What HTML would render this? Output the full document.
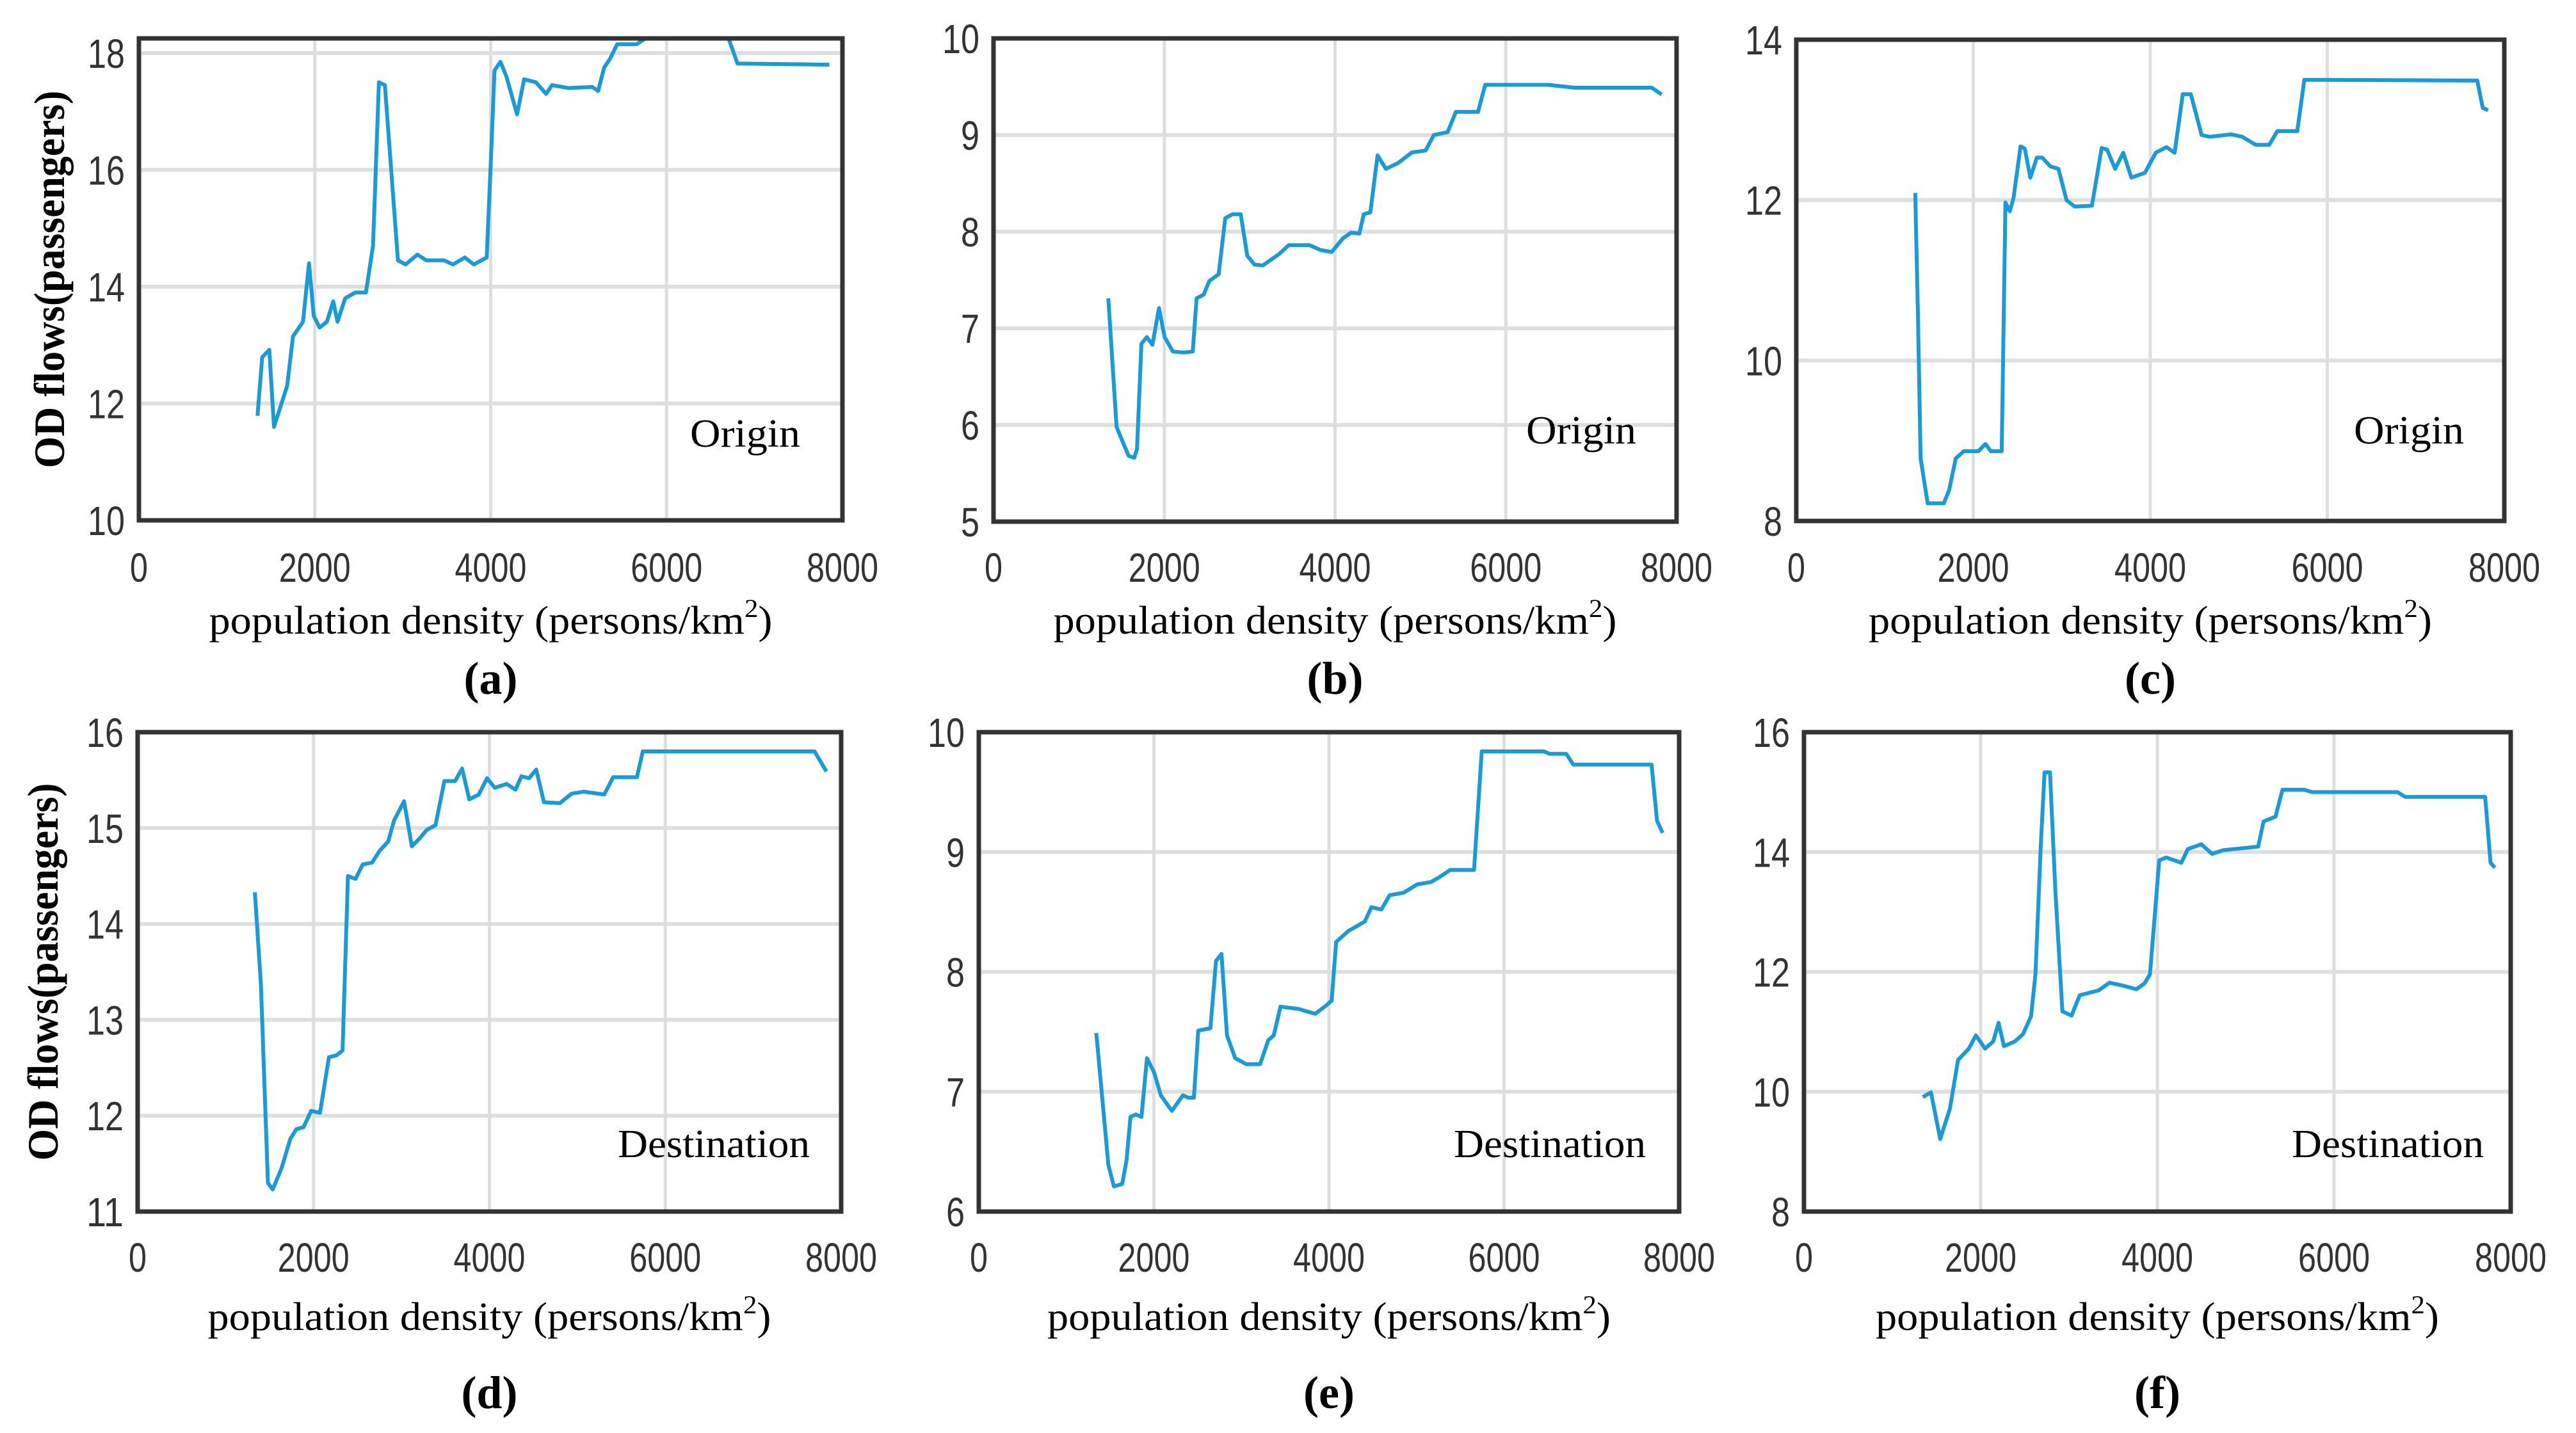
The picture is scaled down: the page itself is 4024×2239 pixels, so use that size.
<!DOCTYPE html>
<html><head><meta charset="utf-8"><style>
html,body{margin:0;padding:0;background:#fff;}
svg{display:block;}
</style></head><body>
<svg id="fig" width="4024" height="2239" viewBox="0 0 4024 2239" xmlns="http://www.w3.org/2000/svg">
<rect width="4024" height="2239" fill="#fff"/>
</svg>
<script>
// Panel data (x = population density, y = OD flows)
const xA = [1348,1402,1483,1536,1685,1752,1866,1934,1988,2054,2137,2210,2258,2345,2460,2581,2662,2729,2797,2945,3032,3167,3268,3470,3571,3706,3807,3955,4009,4043,4111,4178,4300,4380,4515,4630,4697,4886,5155,5222,5290,5357,5438,5660,5761,6705,6806,7851];
const yA = [11.79,12.79,12.92,11.6,12.3,13.15,13.4,14.4,13.5,13.3,13.4,13.75,13.4,13.8,13.9,13.9,14.7,17.5,17.45,14.45,14.38,14.55,14.45,14.45,14.38,14.5,14.38,14.5,16.4,17.7,17.85,17.6,16.95,17.55,17.5,17.3,17.45,17.4,17.42,17.35,17.75,17.9,18.15,18.15,18.28,18.28,17.82,17.8];
const xB = [1344,1441,1506,1583,1648,1680,1732,1796,1861,1938,2003,2100,2229,2333,2378,2462,2527,2637,2714,2798,2895,2972,3056,3153,3347,3457,3702,3832,3961,4091,4187,4285,4336,4413,4498,4595,4737,4899,5060,5157,5318,5415,5674,5758,6488,6807,7709,7825];
const yB = [7.31,5.98,5.84,5.68,5.66,5.75,6.84,6.91,6.83,7.21,6.91,6.76,6.75,6.76,7.31,7.35,7.49,7.56,8.14,8.18,8.18,7.75,7.66,7.65,7.77,7.86,7.86,7.81,7.79,7.93,7.99,7.98,8.18,8.2,8.79,8.65,8.71,8.82,8.84,9.0,9.03,9.24,9.24,9.52,9.52,9.49,9.49,9.42];
const xC = [1344,1374,1405,1484,1667,1728,1802,1893,2058,2137,2198,2321,2363,2412,2455,2534,2583,2644,2718,2779,2870,2962,3053,3145,3340,3450,3511,3603,3695,3786,3939,4061,4183,4275,4367,4458,4580,4672,4916,5038,5191,5344,5435,5661,5740,5954,7695,7756,7817];
const yC = [12.09,10.58,8.78,8.22,8.22,8.39,8.78,8.87,8.87,8.96,8.87,8.87,11.97,11.86,12.03,12.67,12.64,12.28,12.53,12.53,12.42,12.39,12.0,11.92,11.93,12.65,12.63,12.39,12.59,12.28,12.34,12.59,12.66,12.59,13.32,13.32,12.81,12.79,12.82,12.79,12.69,12.69,12.86,12.86,13.5,13.5,13.49,13.15,13.12];
const xD = [1333,1401,1481,1535,1636,1737,1805,1886,1973,2074,2175,2263,2330,2391,2478,2559,2667,2748,2849,2916,3030,3118,3205,3286,3387,3488,3609,3690,3771,3879,3973,4061,4195,4296,4364,4451,4532,4620,4801,4936,5071,5306,5407,5677,5744,7697,7832];
const yD = [14.33,13.38,11.3,11.23,11.45,11.76,11.86,11.88,12.05,12.03,12.61,12.63,12.68,14.5,14.47,14.62,14.64,14.76,14.86,15.08,15.28,14.81,14.89,14.98,15.03,15.49,15.49,15.62,15.3,15.35,15.52,15.42,15.46,15.4,15.54,15.52,15.61,15.27,15.26,15.36,15.38,15.35,15.53,15.53,15.8,15.8,15.59];
const xE = [1342,1417,1480,1543,1638,1688,1732,1795,1858,1921,2003,2079,2205,2331,2394,2457,2507,2646,2709,2772,2835,2929,3055,3213,3307,3370,3446,3654,3843,3969,4031,4082,4220,4409,4485,4598,4693,4850,5008,5165,5260,5386,5657,5745,6457,6520,6709,6791,7685,7748,7811];
const yE = [7.49,6.89,6.39,6.21,6.23,6.43,6.79,6.81,6.79,7.28,7.16,6.97,6.84,6.97,6.95,6.95,7.51,7.53,8.09,8.15,7.47,7.28,7.23,7.23,7.43,7.47,7.71,7.69,7.65,7.72,7.76,8.25,8.34,8.42,8.54,8.52,8.64,8.66,8.73,8.75,8.79,8.85,8.85,9.84,9.84,9.82,9.82,9.73,9.73,9.26,9.16];
const xF = [1346,1438,1542,1652,1744,1867,1946,2050,2142,2203,2264,2387,2479,2570,2620,2681,2723,2785,2846,2925,3029,3121,3335,3458,3611,3764,3856,3917,4021,4100,4271,4345,4498,4620,4743,5141,5202,5337,5417,5661,5753,6720,6805,7711,7772,7821];
const yF = [9.91,9.99,9.21,9.72,10.53,10.72,10.94,10.72,10.84,11.15,10.76,10.84,10.96,11.26,11.96,14.13,15.33,15.33,13.35,11.34,11.27,11.61,11.69,11.82,11.77,11.71,11.81,11.96,13.86,13.91,13.82,14.05,14.13,13.97,14.03,14.09,14.51,14.59,15.04,15.04,15.0,15.0,14.92,14.92,13.82,13.74];
const xTicks = [0,2000,4000,6000,8000];
const yTicksA = [10,12,14,16,18];
const yTicksB = [5,6,7,8,9,10];
const yTicksC = [8,10,12,14];
const yTicksD = [11,12,13,14,15,16];
const yTicksE = [6,7,8,9,10];
const yTicksF = [8,10,12,14,16];

const NS = 'http://www.w3.org/2000/svg';
const svg = document.getElementById('fig');
function mk(tag, attrs, parent, text) {
  const e = document.createElementNS(NS, tag);
  for (const k in attrs) e.setAttribute(k, attrs[k]);
  if (text !== undefined) e.textContent = text;
  (parent || svg).appendChild(e);
  return e;
}
const panels = [
  {id:'a', xs:xA, ys:yA, yt:yTicksA, ymin:10, ymax:18.25, L:217, R:1316, T:60, B:813, note:'Origin', noteX:1250, noteY:698, row:0, ylab:true},
  {id:'b', xs:xB, ys:yB, yt:yTicksB, ymin:5, ymax:10, L:1552, R:2619, T:60, B:815, note:'Origin', noteX:2556, noteY:693, row:0},
  {id:'c', xs:xC, ys:yC, yt:yTicksC, ymin:8, ymax:14, L:2806, R:3912, T:62, B:814, note:'Origin', noteX:3849, noteY:693, row:0},
  {id:'d', xs:xD, ys:yD, yt:yTicksD, ymin:11, ymax:16, L:215, R:1314, T:1144, B:1893, note:'Destination', noteX:1265, noteY:1808, row:1, ylab:true},
  {id:'e', xs:xE, ys:yE, yt:yTicksE, ymin:6, ymax:10, L:1529, R:2623, T:1144, B:1893, note:'Destination', noteX:2571, noteY:1808, row:1},
  {id:'f', xs:xF, ys:yF, yt:yTicksF, ymin:8, ymax:16, L:2818, R:3922, T:1144, B:1893, note:'Destination', noteX:3880, noteY:1808, row:1}
];
panels.forEach(p => {
  const g = mk('g', {});
  
  
  const sx = v => p.L + (v - 0) / 8000 * (p.R - p.L);
  const sy = v => p.B - (v - p.ymin) / (p.ymax - p.ymin) * (p.B - p.T);
  xTicks.forEach(t => {
    if (t > 0 && t < 8000) {
      const gl = mk('line', {x1:sx(t), x2:sx(t), y1:p.T, y2:p.B, stroke:'#dedede', 'stroke-width':5}, g);
      
      
    }
    const tl = mk('text', {x:sx(t), y:(p.row ? 1987 : 909), 'text-anchor':'middle', 'font-family':'Liberation Sans, sans-serif', 'font-size':64, fill:'#333', textLength:String(t).length*28, lengthAdjust:'spacingAndGlyphs'}, g, String(t));
    
    
  });
  p.yt.forEach(t => {
    if (t > p.ymin && t < p.ymax) {
      const gl = mk('line', {x1:p.L, x2:p.R, y1:sy(t), y2:sy(t), stroke:'#dedede', 'stroke-width':6}, g);
      
      
    }
    const tl = mk('text', {x:p.L - 22, y:sy(t) + 23, 'text-anchor':'end', 'font-family':'Liberation Sans, sans-serif', 'font-size':64, fill:'#333', textLength:String(t).length*29, lengthAdjust:'spacingAndGlyphs'}, g, String(t));
    
    
  });
  let d = '';
  p.xs.forEach((x, i) => { d += (i ? 'L' : 'M') + sx(x).toFixed(1) + ' ' + sy(Math.min(p.ys[i], p.ymax)).toFixed(1); });
  const line = mk('path', {d:d, fill:'none', stroke:'#1a9bd7', 'stroke-width':6, 'stroke-linejoin':'round'}, g);
  
  
  const box = mk('rect', {x:p.L, y:p.T, width:p.R - p.L, height:p.B - p.T, fill:'none', stroke:'#333', 'stroke-width':7}, g);
  
  
  const an = mk('text', {x:p.noteX, y:p.noteY, 'text-anchor':'end', 'font-family':'Liberation Serif, serif', 'font-size':62, fill:'#000', textLength:(p.note === 'Origin' ? 172 : 300), lengthAdjust:'spacingAndGlyphs'}, g, p.note);
  
  
  const cx = (p.L + p.R) / 2;
  const xl = mk('text', {x:cx, y:(p.row ? 2078 : 990), 'text-anchor':'middle', 'font-family':'Liberation Serif, serif', 'font-size':62, fill:'#000', textLength:880, lengthAdjust:'spacingAndGlyphs'}, g);
  
  
  xl.appendChild(document.createTextNode('population density (persons/km'));
  mk('tspan', {'font-size':40, dy:-26}, xl, '2');
  mk('tspan', {dy:26}, xl, ')');
  const pl = mk('text', {x:cx, y:(p.row ? 2200 : 1084), 'text-anchor':'middle', 'font-family':'Liberation Serif, serif', 'font-size':72, 'font-weight':'bold', fill:'#000'}, g, '(' + p.id + ')');
  
  
  if (p.ylab) {
    const yc = (p.T + p.B) / 2;
    const bx = p.row ? 90 : 100;
    const yl = mk('text', {x:bx, y:yc, transform:'rotate(-90 ' + bx + ' ' + yc + ')', 'text-anchor':'middle', 'font-family':'Liberation Serif, serif', 'font-size':68, 'font-weight':'bold', fill:'#000', textLength:590, lengthAdjust:'spacingAndGlyphs'}, g, 'OD flows(passengers)');
    
    
  }
});
</script>
</body></html>
